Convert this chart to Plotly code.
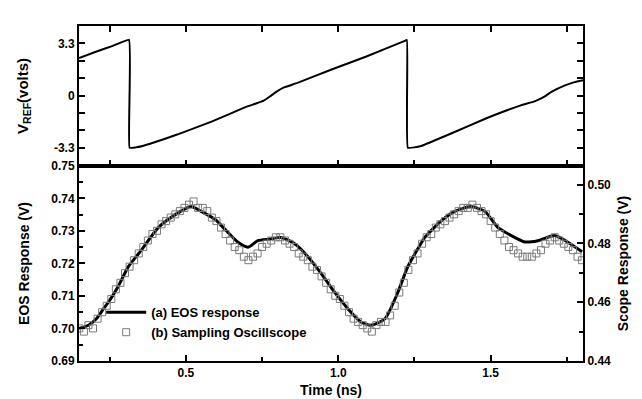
import plotly.graph_objects as go

# ---- Top panel: reference sawtooth V_REF (volts) ----
ref_time = [0.149, 0.20, 0.26, 0.313, 0.315, 0.335, 0.358, 0.392, 0.471, 0.584, 0.697,
            0.730, 0.755, 0.776, 0.800, 0.820, 0.866, 0.978, 1.092, 1.216, 1.225,
            1.228, 1.250, 1.272, 1.374, 1.486, 1.599, 1.644, 1.672, 1.701, 1.746,
            1.775, 1.803]
ref_volts = [2.37, 2.74, 3.14, 3.52, -3.30, -3.28, -3.19, -2.99, -2.47, -1.65, -0.72,
             -0.50, -0.32, -0.05, 0.28, 0.50, 0.80, 1.65, 2.47, 3.44, 3.51,
             -3.30, -3.28, -3.19, -2.37, -1.44, -0.62, -0.37, -0.12, 0.25, 0.66,
             0.85, 0.97]

# ---- Bottom panel: (a) EOS response (left axis, V) ----
eos_time = [0.150, 0.180, 0.206, 0.229, 0.245, 0.278, 0.311, 0.353, 0.409, 0.465,
            0.517, 0.550, 0.596, 0.628, 0.671, 0.704, 0.736, 0.776, 0.812, 0.858,
            0.901, 0.943, 0.989, 1.032, 1.074, 1.107, 1.153, 1.195, 1.228, 1.261,
            1.284, 1.337, 1.382, 1.435, 1.481, 1.524, 1.567, 1.612, 1.655, 1.710,
            1.752, 1.800]
eos_resp = [0.7000, 0.7010, 0.7030, 0.7060, 0.7080, 0.7130, 0.7190, 0.7240, 0.7310, 0.7350,
            0.7375, 0.7360, 0.7335, 0.7305, 0.7265, 0.7250, 0.7270, 0.7275, 0.7280, 0.7260,
            0.7220, 0.7170, 0.7110, 0.7060, 0.7020, 0.7010, 0.7030, 0.7110, 0.7190, 0.7245,
            0.7280, 0.7330, 0.7360, 0.7375, 0.7360, 0.7310, 0.7286, 0.7266, 0.7270, 0.7286,
            0.7266, 0.7236]

# ---- Bottom panel: (b) Sampling oscilloscope (right axis, V), sampled every 0.015 ns from 0.15 ns ----
scope_start = 0.15
scope_step = 0.015
scope_resp = [0.4511, 0.4500, 0.4522, 0.4511, 0.4544, 0.4566, 0.4588, 0.4611, 0.4644, 0.4666,
              0.4699, 0.4721, 0.4743, 0.4766, 0.4788, 0.4810, 0.4832, 0.4843, 0.4865, 0.4876,
              0.4888, 0.4899, 0.4910, 0.4921, 0.4932, 0.4943, 0.4921, 0.4921, 0.4910, 0.4888,
              0.4876, 0.4854, 0.4832, 0.4810, 0.4788, 0.4777, 0.4755, 0.4743, 0.4755, 0.4766,
              0.4788, 0.4799, 0.4810, 0.4821, 0.4821, 0.4810, 0.4799, 0.4788, 0.4766, 0.4755,
              0.4743, 0.4721, 0.4710, 0.4688, 0.4666, 0.4644, 0.4622, 0.4611, 0.4588, 0.4566,
              0.4544, 0.4533, 0.4522, 0.4511, 0.4500, 0.4522, 0.4533, 0.4533, 0.4555, 0.4588,
              0.4633, 0.4666, 0.4710, 0.4743, 0.4766, 0.4799, 0.4821, 0.4832, 0.4854, 0.4865,
              0.4876, 0.4888, 0.4899, 0.4910, 0.4921, 0.4921, 0.4932, 0.4921, 0.4910, 0.4899,
              0.4876, 0.4854, 0.4832, 0.4810, 0.4788, 0.4777, 0.4766, 0.4755, 0.4755, 0.4755,
              0.4766, 0.4777, 0.4799, 0.4810, 0.4821, 0.4810, 0.4799, 0.4788, 0.4777, 0.4755,
              0.4743]
scope_time = [scope_start + scope_step * i for i in range(len(scope_resp))]

FONT = "Liberation Sans, Arial, sans-serif"

fig = go.Figure()
fig.add_trace(go.Scatter(x=ref_time, y=ref_volts, xaxis="x2", yaxis="y3", mode="lines",
                         line=dict(color="black", width=2, shape="spline", smoothing=0.3),
                         showlegend=False))
fig.add_trace(go.Scatter(x=eos_time, y=eos_resp, xaxis="x", yaxis="y", mode="lines",
                         line=dict(color="black", width=3, shape="spline", smoothing=0.6),
                         name="(a) EOS response"))
fig.add_trace(go.Scatter(x=scope_time, y=scope_resp, xaxis="x", yaxis="y2", mode="markers",
                         marker=dict(symbol="square-open", size=7, color="#7a7a7a",
                                     line=dict(width=1, color="#7a7a7a")),
                         name="(b) Sampling Oscillscope"))

split = 0.5825
xr = [0.149, 1.803]
common_tick = dict(ticks="inside", ticklen=6, tickwidth=1.5, tickcolor="black",
                   showline=True, linecolor="black", linewidth=2, showgrid=False,
                   zeroline=False,
                   tickfont=dict(family=FONT, size=12, color="black", weight="bold"))

fig.update_layout(
    width=642, height=399,
    margin=dict(l=71, r=67, t=11, b=46),
    paper_bgcolor="white", plot_bgcolor="white",
    font=dict(family=FONT, color="black"),
    xaxis=dict(domain=[0, 1], anchor="y", range=xr, tickvals=[0.5, 1.0, 1.5],
               ticktext=["0.5", "1.0", "1.5"], mirror=True,
               minor=dict(dtick=0.25, tick0=0, ticks="inside", ticklen=4, tickcolor="black"),
               title=dict(text="Time (ns)", font=dict(family=FONT, size=14, weight="bold"),
                          standoff=6),
               **common_tick),
    yaxis=dict(domain=[0, split], anchor="x", range=[0.69, 0.75], dtick=0.01, tick0=0.69,
               tickformat=".2f",
               minor=dict(dtick=0.005, tick0=0.69, ticks="inside", ticklen=4, tickcolor="black"),
               title=dict(text="EOS Response (V)", font=dict(family=FONT, size=14, weight="bold"),
                          standoff=18),
               **common_tick),
    yaxis2=dict(overlaying="y", side="right", anchor="x", range=[0.44, 0.5064],
                tickvals=[0.44, 0.46, 0.48, 0.50], tickformat=".2f",
                minor=dict(dtick=0.01, tick0=0.44, ticks="inside", ticklen=4, tickcolor="black"),
                title=dict(text="Scope Response (V)", font=dict(family=FONT, size=14, weight="bold"),
                           standoff=8),
                **common_tick),
    xaxis2=dict(domain=[0, 1], anchor="y3", range=xr, showticklabels=False, mirror="ticks",
                tickvals=[0.25, 0.5, 0.75, 1.0, 1.25, 1.5, 1.75], **common_tick),
    yaxis3=dict(domain=[split, 1], anchor="x2", range=[-4.45, 4.4], mirror="ticks",
                tickvals=[-3.3, 0, 3.3], ticktext=["-3.3", "0", "3.3"],
                minor=dict(tickvals=[-4.4, -2.2, -1.1, 1.1, 2.2, 4.4], ticks="inside",
                           ticklen=6, tickcolor="black"),
                title=dict(text="V<sub>REF</sub>(volts)", font=dict(family=FONT, size=15, weight="bold"),
                           standoff=22),
                **common_tick),
    legend=dict(x=0.044, y=0.19, xanchor="left", yanchor="top", bgcolor="rgba(0,0,0,0)",
                font=dict(family=FONT, size=13, color="black", weight="bold"),
                tracegroupgap=0, itemwidth=40),
)

fig.write_html("out.html")
